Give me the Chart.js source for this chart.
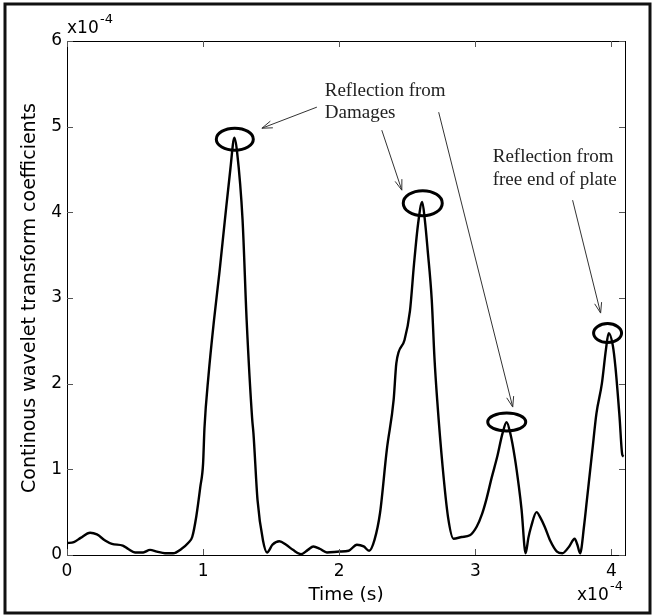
<!DOCTYPE html>
<html>
<head>
<meta charset="utf-8">
<script src="https://cdn.jsdelivr.net/npm/chart.js@4"></script>
<style>
  body { margin: 0; background: #fff; }
  #wrap { width: 655px; height: 616px; }
</style>
</head>
<body>
<div id="wrap"><canvas id="myChart"></canvas></div>
<script>
// time in units of 1e-4 s, coefficients in units of 1e-4
var times = [0.00, 0.05, 0.10, 0.17, 0.22, 0.28, 0.33, 0.41, 0.45, 0.50, 0.56, 0.61, 0.66, 0.72, 0.78, 0.84, 0.89, 0.92, 0.95, 0.98,
  1.00, 1.01, 1.04, 1.08, 1.12, 1.16, 1.20, 1.23, 1.25, 1.29, 1.32, 1.36, 1.37, 1.40, 1.44, 1.47, 1.51, 1.56, 1.61, 1.66,
  1.72, 1.77, 1.81, 1.86, 1.91, 2.00, 2.07, 2.13, 2.18, 2.22, 2.26, 2.30, 2.35, 2.40, 2.42, 2.48, 2.52, 2.55, 2.58, 2.61,
  2.63, 2.65, 2.68, 2.70, 2.72, 2.76, 2.80, 2.84, 2.90, 2.96, 3.01, 3.05, 3.08, 3.12, 3.16, 3.20, 3.23, 3.26, 3.29, 3.32,
  3.34, 3.37, 3.39, 3.41, 3.45, 3.48, 3.51, 3.55, 3.60, 3.64, 3.69, 3.73, 3.75, 3.77, 3.80, 3.82, 3.86, 3.89, 3.93, 3.96,
  3.98, 4.01, 4.03, 4.06, 4.08, 4.09];
var coeffs = [0.14, 0.15, 0.20, 0.26, 0.24, 0.17, 0.13, 0.11, 0.07, 0.03, 0.03, 0.06, 0.04, 0.02, 0.02, 0.07, 0.14, 0.21, 0.45, 0.80,
  1.07, 1.48, 2.10, 2.74, 3.30, 3.91, 4.50, 4.87, 4.70, 3.91, 2.74, 1.60, 1.42, 0.64, 0.17, 0.03, 0.12, 0.16, 0.12, 0.06,
  0.01, 0.06, 0.10, 0.07, 0.03, 0.04, 0.05, 0.12, 0.10, 0.05, 0.18, 0.49, 1.23, 1.81, 2.24, 2.51, 2.85, 3.40, 3.87, 4.12,
  3.90, 3.56, 2.98, 2.30, 1.81, 1.03, 0.44, 0.19, 0.21, 0.23, 0.33, 0.48, 0.64, 0.90, 1.14, 1.42, 1.55, 1.40, 1.14, 0.80,
  0.53, 0.02, 0.20, 0.33, 0.50, 0.43, 0.33, 0.17, 0.04, 0.02, 0.10, 0.19, 0.12, 0.02, 0.35, 0.64, 1.22, 1.65, 2.00, 2.40,
  2.59, 2.45, 2.19, 1.61, 1.17, 1.15];
var xTicks = [0, 1, 2, 3, 4];
var yTicks = [0, 1, 2, 3, 4, 5, 6];

// annotation anchors, in data units
var circled = [[1.233, 4.854], [2.614, 4.107], [3.231, 1.552], [3.972, 2.590]];
var circleSize = [[37, 22], [39, 25], [38, 18], [28, 19]];
var arrows = [
  [1.836, 5.228, 1.432, 4.982],
  [2.313, 4.959, 2.460, 4.259],
  [2.731, 5.169, 3.275, 1.727],
  [3.715, 4.142, 3.921, 2.824]
];
var notes = [
  { x: 1.894, y: 5.414, text: "Reflection from" },
  { x: 1.894, y: 5.158, text: "Damages" },
  { x: 3.128, y: 4.644, text: "Reflection from" },
  { x: 3.128, y: 4.376, text: "free end of plate" }
];

var points = [];
for (var i = 0; i < times.length; i++) {
  points.push({ x: times[i], y: coeffs[i] });
}

var sans = "'DejaVu Sans', sans-serif";

function arrowHead(ctx, x1, y1, x2, y2) {
  var a = Math.atan2(y2 - y1, x2 - x1);
  var len = 11, spread = 0.33;
  ctx.beginPath();
  ctx.moveTo(x2 - len * Math.cos(a - spread), y2 - len * Math.sin(a - spread));
  ctx.lineTo(x2, y2);
  ctx.lineTo(x2 - len * Math.cos(a + spread), y2 - len * Math.sin(a + spread));
  ctx.stroke();
}

var decorations = {
  id: 'decorations',
  beforeDraw: function(chart) {
    var ctx = chart.ctx;
    ctx.save();
    ctx.fillStyle = '#fff';
    ctx.fillRect(0, 0, chart.width, chart.height);
    ctx.strokeStyle = '#111';
    ctx.lineWidth = 3;
    ctx.strokeRect(5, 4, 645, 609);
    ctx.restore();
  },
  afterDatasetsDraw: function(chart) {
    var ctx = chart.ctx;
    var xs = chart.scales.x, ys = chart.scales.y;
    var a = chart.chartArea;
    ctx.save();

    // plot box
    ctx.strokeStyle = '#000';
    ctx.lineWidth = 1;
    ctx.strokeRect(Math.round(a.left) + 0.5, Math.round(a.top) + 0.5, Math.round(a.right - a.left), Math.round(a.bottom - a.top));

    // inward ticks on all four sides
    ctx.strokeStyle = '#555';
    ctx.beginPath();
    xTicks.forEach(function(v) {
      var px = Math.round(xs.getPixelForValue(v)) + 0.5;
      ctx.moveTo(px, a.bottom); ctx.lineTo(px, a.bottom - 6);
      ctx.moveTo(px, a.top); ctx.lineTo(px, a.top + 6);
    });
    yTicks.forEach(function(v) {
      var py = Math.round(ys.getPixelForValue(v)) + 0.5;
      ctx.moveTo(a.left, py); ctx.lineTo(a.left + 6, py);
      ctx.moveTo(a.right, py); ctx.lineTo(a.right - 6, py);
    });
    ctx.stroke();

    // exponent labels
    ctx.fillStyle = '#000';
    ctx.textBaseline = 'middle';
    ctx.textAlign = 'left';
    ctx.font = "17px " + sans;
    ctx.fillText('x10', 67, 29);
    ctx.fillText('x10', 577, 596);
    ctx.font = "13px " + sans;
    ctx.fillText('-4', 100, 20);
    ctx.fillText('-4', 610, 587);

    // circles round the peaks
    ctx.strokeStyle = '#000';
    ctx.lineWidth = 3;
    circled.forEach(function(c, k) {
      ctx.beginPath();
      ctx.ellipse(xs.getPixelForValue(c[0]), ys.getPixelForValue(c[1]), circleSize[k][0] / 2, circleSize[k][1] / 2, 0, 0, Math.PI * 2);
      ctx.stroke();
    });

    // arrows
    ctx.strokeStyle = '#333';
    ctx.lineWidth = 1;
    arrows.forEach(function(r) {
      var x1 = xs.getPixelForValue(r[0]), y1 = ys.getPixelForValue(r[1]);
      var x2 = xs.getPixelForValue(r[2]), y2 = ys.getPixelForValue(r[3]);
      ctx.beginPath();
      ctx.moveTo(x1, y1);
      ctx.lineTo(x2, y2);
      ctx.stroke();
      arrowHead(ctx, x1, y1, x2, y2);
    });

    // notes
    ctx.fillStyle = '#222';
    ctx.font = "19px 'Liberation Serif', 'Times New Roman', serif";
    ctx.textBaseline = 'middle';
    notes.forEach(function(n) {
      ctx.fillText(n.text, xs.getPixelForValue(n.x), ys.getPixelForValue(n.y));
    });
    ctx.restore();
  }
};

var ctx = document.getElementById('myChart');
var myChart = new Chart(ctx, {
  type: 'line',
  data: {
    datasets: [{
      label: 'CWT',
      data: points,
      borderColor: '#000',
      borderWidth: 2.4,
      pointRadius: 0,
      cubicInterpolationMode: 'monotone',
      fill: false
    }]
  },
  options: {
    responsive: true,
    maintainAspectRatio: false,
    animation: false,
    layout: { padding: { left: 12, top: 41, right: 30, bottom: 10 } },
    plugins: {
      legend: { display: false },
      tooltip: { enabled: false }
    },
    scales: {
      x: {
        type: 'linear',
        min: 0,
        max: 4.1,
        afterBuildTicks: function(scale) {
          scale.ticks = xTicks.map(function(v) { return { value: v }; });
        },
        afterFit: function(scale) { scale.height = 51; },
        grid: { display: false, drawTicks: false },
        border: { display: false },
        ticks: {
          color: '#000',
          padding: 6,
          maxRotation: 0,
          font: { family: sans, size: 17 }
        },
        title: {
          display: true,
          text: 'Time (s)',
          color: '#000',
          font: { family: sans, size: 18.5 },
          padding: { top: 0, bottom: 0 }
        }
      },
      y: {
        type: 'linear',
        min: 0,
        max: 6,
        afterBuildTicks: function(scale) {
          scale.ticks = yTicks.map(function(v) { return { value: v }; });
        },
        afterFit: function(scale) { scale.width = 55; },
        grid: { display: false, drawTicks: false },
        border: { display: false },
        ticks: {
          color: '#000',
          padding: 5,
          font: { family: sans, size: 17 }
        },
        title: {
          display: true,
          text: 'Continous wavelet transform coefficients',
          color: '#000',
          font: { family: sans, size: 19 },
          padding: { top: 7, bottom: 0 }
        }
      }
    }
  },
  plugins: [decorations]
});
</script>
</body>
</html>
